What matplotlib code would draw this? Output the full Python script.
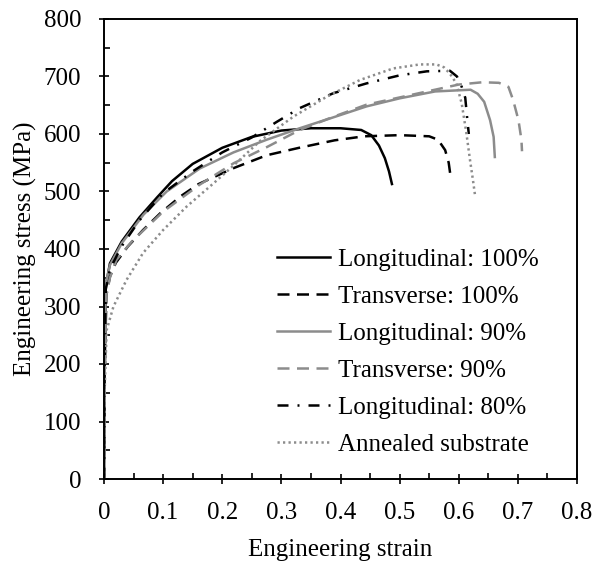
import matplotlib
matplotlib.use("Agg")
import matplotlib.pyplot as plt
from matplotlib.ticker import MultipleLocator

plt.rcParams['font.family'] = ['Liberation Serif', 'DejaVu Serif']

# Longitudinal: 100%
l100_strain = [0, 0.001, 0.003, 0.01, 0.03, 0.06, 0.09, 0.115, 0.15, 0.2, 0.25, 0.3,
               0.35, 0.4, 0.435, 0.452, 0.465, 0.475, 0.482, 0.487]
l100_stress = [0, 180, 335, 375, 413, 455, 490, 518, 548, 576, 595, 606,
               610, 610, 607, 598, 580, 558, 535, 513]

# Transverse: 100%
t100_strain = [0, 0.001, 0.004, 0.01, 0.02, 0.04, 0.066, 0.095, 0.13, 0.16, 0.22, 0.275,
               0.33, 0.39, 0.44, 0.5, 0.55, 0.565, 0.577, 0.583, 0.587]
t100_stress = [0, 180, 320, 352, 376, 404, 433, 462, 492, 513, 541, 563,
               576, 589, 596, 598, 596, 590, 572, 550, 520]

# Longitudinal: 90%
l90_strain = [0, 0.001, 0.003, 0.01, 0.03, 0.067, 0.106, 0.162, 0.219, 0.275, 0.331,
              0.388, 0.444, 0.5, 0.56, 0.62, 0.632, 0.643, 0.653, 0.659, 0.661]
l90_stress = [0, 200, 340, 372, 410, 460, 500, 540, 568, 590, 610,
              629, 648, 662, 674, 677, 670, 656, 624, 595, 560]

# Transverse: 90%
t90_strain = [0, 0.001, 0.004, 0.01, 0.021, 0.047, 0.1, 0.162, 0.219, 0.275, 0.331,
              0.388, 0.444, 0.533, 0.6, 0.64, 0.668, 0.684, 0.692, 0.701, 0.706, 0.707]
t90_stress = [0, 180, 320, 350, 381, 413, 465, 512, 549, 577, 607,
              630, 651, 671, 686, 690, 689, 682, 659, 624, 590, 570]

# Longitudinal: 80%
l80_strain = [0, 0.001, 0.003, 0.01, 0.03, 0.06, 0.1, 0.15, 0.2, 0.25, 0.292, 0.331,
              0.388, 0.444, 0.5, 0.546, 0.585, 0.597, 0.605, 0.611, 0.614, 0.617]
l80_stress = [0, 200, 330, 365, 405, 450, 497, 535, 568, 594, 621, 645,
              671, 688, 702, 709, 710, 700, 682, 663, 630, 600]

# Annealed substrate
ann_strain = [0, 0.001, 0.0045, 0.016, 0.038, 0.066, 0.1, 0.14, 0.185, 0.219, 0.264,
              0.32, 0.377, 0.433, 0.489, 0.534, 0.562, 0.575, 0.585, 0.596, 0.605,
              0.613, 0.619, 0.624, 0.628]
ann_stress = [0, 150, 259, 300, 346, 393, 433, 474, 514, 545, 588,
              630, 665, 694, 714, 721, 721, 716, 705, 688, 653,
              601, 555, 520, 490]

xticks = [0, 0.1, 0.2, 0.3, 0.4, 0.5, 0.6, 0.7, 0.8]
xticklabels = ['0', '0.1', '0.2', '0.3', '0.4', '0.5', '0.6', '0.7', '0.8']

GRIS = '#8c8c8c'


def main():
    fig = plt.figure(figsize=(5.94, 5.63), dpi=100)
    ax = fig.add_axes([104 / 594, 1 - 479 / 563, 473 / 594, 460 / 563])

    lw = 1.8
    ax.plot(l100_strain, l100_stress, color='black', lw=lw, label='Longitudinal: 100%')
    ax.plot(t100_strain, t100_stress, color='black', lw=lw, dashes=(4.8, 3.0),
            label='Transverse: 100%')
    ax.plot(l90_strain, l90_stress, color=GRIS, lw=lw, label='Longitudinal: 90%')
    ax.plot(t90_strain, t90_stress, color=GRIS, lw=lw, dashes=(4.8, 3.0),
            label='Transverse: 90%')
    ax.plot(l80_strain, l80_stress, color='black', lw=lw, dashes=(4.4, 3.6, 0.8, 3.6),
            label='Longitudinal: 80%')
    ax.plot(ann_strain, ann_stress, color=GRIS, lw=lw, dashes=(0.9, 1.3),
            label='Annealed substrate')

    ax.set_xlim(0, 0.8)
    ax.set_ylim(0, 800)
    ax.set_xticks(xticks)
    ax.set_xticklabels(xticklabels)
    ax.xaxis.set_minor_locator(MultipleLocator(0.05))
    ax.yaxis.set_major_locator(MultipleLocator(100))
    ax.yaxis.set_minor_locator(MultipleLocator(50))

    ax.tick_params(which='major', direction='inout', length=7, width=1.2,
                   labelsize=18, pad=13)
    ax.tick_params(which='minor', direction='in', length=4, width=1.2)
    for sp in ax.spines.values():
        sp.set_linewidth(1.4)

    ax.set_xlabel('Engineering strain', fontsize=18, labelpad=11)
    ax.set_ylabel('Engineering stress (MPa)', fontsize=18, labelpad=5)

    ax.legend(loc='lower left', bbox_to_anchor=(0.366, 0.05), frameon=False,
              fontsize=18, handlelength=2.1, handletextpad=0.35,
              labelspacing=0.58, borderpad=0, borderaxespad=0)

    fig.savefig('out.png', dpi=100)


if __name__ == "__main__":
    main()
